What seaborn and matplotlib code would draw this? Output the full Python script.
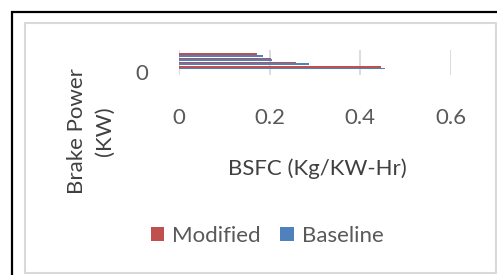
import numpy as np
import pandas as pd
import matplotlib
matplotlib.use("Agg")
import matplotlib.pyplot as plt
import matplotlib.patches as mpatches
import seaborn as sns

# ---- data (bottom category first, as in the spreadsheet) ----
brake_power = ["0", "1", "2", "3", "4"]
modified = [np.nan, 0.445, 0.259, 0.202, 0.173]
baseline = [np.nan, 0.4535, 0.287, 0.206, 0.185]
series_names = ["Modified", "Baseline"]
x_ticks = [0, 0.2, 0.4, 0.6]
x_tick_labels = ["0", "0.2", "0.4", "0.6"]
x_label = "BSFC (Kg/KW-Hr)"
y_label = "Brake Power\n(KW)"

RED = "#C0504D"
BLUE = "#4F81BD"
GRID = "#D9D9D9"
TXT = "#595959"

sns.set_theme(style="white")
plt.rcParams["font.family"] = ["Lato", "DejaVu Sans"]

df = pd.DataFrame({
    "bp": brake_power * 2,
    "bsfc": modified + baseline,
    "series": [series_names[0]] * len(brake_power) + [series_names[1]] * len(brake_power),
})

W, H = 497, 275
fig = plt.figure(figsize=(W / 100, H / 100), dpi=100)
fig.patch.set_facecolor("white")

# frames
fig.patches.append(mpatches.Rectangle((12 / W, -0.1), 1.2, 1 - 12 / H + 0.1, transform=fig.transFigure,
                                      fill=False, edgecolor="black", linewidth=1.6, zorder=0))
fig.patches.append(mpatches.Rectangle((25 / W, 2 / H), (496 - 25) / W, (273 - 23) / H, transform=fig.transFigure,
                                      fill=False, edgecolor=GRID, linewidth=1.5, zorder=0))

ax = fig.add_axes([179 / W, 1 - 75 / H, (451 - 179) / W, 25 / H])
order = list(reversed(brake_power))  # top to bottom
sns.barplot(data=df, y="bp", x="bsfc", hue="series", order=order, hue_order=series_names,
            palette=[RED, BLUE], width=0.8, orient="h", ax=ax, legend=False,
            saturation=1, errorbar=None, linewidth=0)

ax.set_xlim(0, 0.6)
ax.set_ylim(4.75, -1.2)
ax.set_xticks(x_ticks, x_tick_labels)
ax.set_yticks([order.index(brake_power[0])], [brake_power[0]])
for x in x_ticks:
    ax.axvline(x, color=GRID, linewidth=1.3, zorder=0)
for s in ax.spines.values():
    s.set_visible(False)
ax.tick_params(axis="x", length=0, pad=24, labelsize=16, labelcolor=TXT)
ax.tick_params(axis="y", length=0, pad=22, labelsize=16, labelcolor=TXT)
ax.set_xlabel("")
ax.set_ylabel("")

fig.text(317 / W, 1 - 169 / H, x_label, ha="center", va="center", fontsize=16, color="#404040")
fig.text(91 / W, 1 - 131 / H, y_label, ha="center", va="center", rotation=90, fontsize=16,
         color="#404040", linespacing=1.45, multialignment="center")

handles = [mpatches.Patch(facecolor=RED, edgecolor="none", label=series_names[0]),
           mpatches.Patch(facecolor=BLUE, edgecolor="none", label=series_names[1])]
leg = fig.legend(handles=handles, loc="center", bbox_to_anchor=(267 / W, 1 - 236 / H), ncol=2,
                 frameon=False, fontsize=16, handlelength=0.6, handleheight=0.6,
                 handletextpad=0.35, columnspacing=0.9, borderpad=0)
for t in leg.get_texts():
    t.set_color(TXT)

fig.savefig("out.png", dpi=100, facecolor="white")
